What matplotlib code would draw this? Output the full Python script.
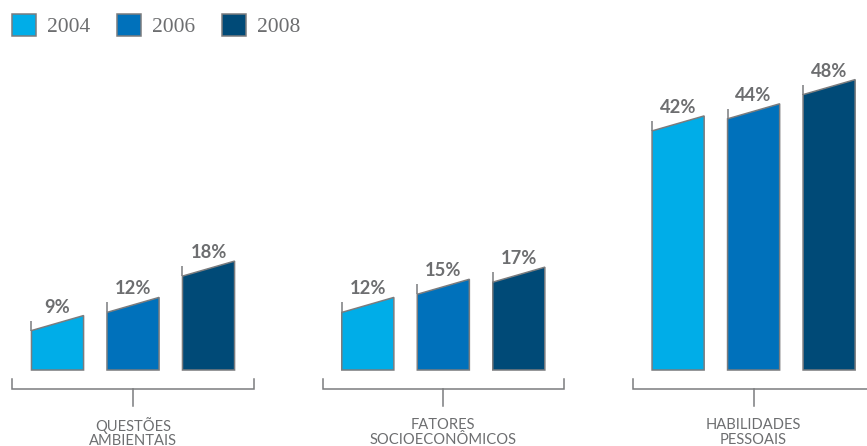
import matplotlib
matplotlib.use("Agg")
import matplotlib.pyplot as plt
from matplotlib.patches import Polygon, Patch

# Data
categories = ["QUESTÕES\nAMBIENTAIS", "FATORES\nSOCIOECONÔMICOS", "HABILIDADES\nPESSOAIS"]
years = ["2004", "2006", "2008"]
values_2004 = [9, 12, 42]
values_2006 = [12, 15, 44]
values_2008 = [18, 17, 48]
series = [values_2004, values_2006, values_2008]

# Styling
colors = ["#00ADE8", "#0071BB", "#004A77"]
edge = "#7b7c7e"
text_gray = "#6d6e70"
group_step = 4.11
bar_width = 0.69
slant = 2.48        # how much lower the left top corner sits
tick_ext = 1.65     # left marker line above the bar
lw = 1.1

fig = plt.figure(figsize=(8.67, 4.46), dpi=100)
ax = fig.add_axes([0, 0, 1, 1])
ax.set_xlim(-1.762, 9.722)
ax.set_ylim(-12.56, 61.16)
ax.axis("off")

for g, cat in enumerate(categories):
    gc = g * group_step
    for s, vals in enumerate(series):
        v = vals[g]
        xc = gc + (s - 1)
        x0, x1 = xc - bar_width / 2, xc + bar_width / 2
        poly = Polygon([(x0, 0), (x1, 0), (x1, v), (x0, v - slant)],
                       closed=True, facecolor=colors[s], edgecolor=edge,
                       linewidth=lw, joinstyle="miter")
        ax.add_patch(poly)
        ax.plot([x0, x0], [v - slant, v - slant + tick_ext], color=edge,
                lw=lw, solid_capstyle="butt")
        ax.text(xc, v + 1.4, f"{v}%", ha="center", va="center",
                fontsize=13.2, fontweight="bold", fontstyle="normal",
                family="Lato", color=text_gray)

    # bracket under each group
    half = 1.6
    ax.plot([gc - half, gc - half, gc + half, gc + half],
            [-1.5, -3.2, -3.2, -1.5], color=edge, lw=lw,
            solid_joinstyle="miter")
    ax.plot([gc, gc], [-3.2, -5.95], color=edge, lw=lw)
    ax.text(gc, -10.3, cat, ha="center", va="center", fontsize=10.6,
            family="Lato", color=text_gray, linespacing=1.05)

handles = [Patch(facecolor=c, edgecolor=edge, linewidth=lw) for c in colors]
fig.legend(handles, years, loc="upper left", bbox_to_anchor=(12 / 867, 1 - 14 / 446),
           ncol=3, frameon=False, borderaxespad=0, borderpad=0,
           handlelength=1.12, handleheight=1.2, handletextpad=0.5,
           columnspacing=1.25,
           prop={"family": "Liberation Serif", "size": 15.5}, labelcolor=text_gray)

fig.savefig("out.png", dpi=100)
